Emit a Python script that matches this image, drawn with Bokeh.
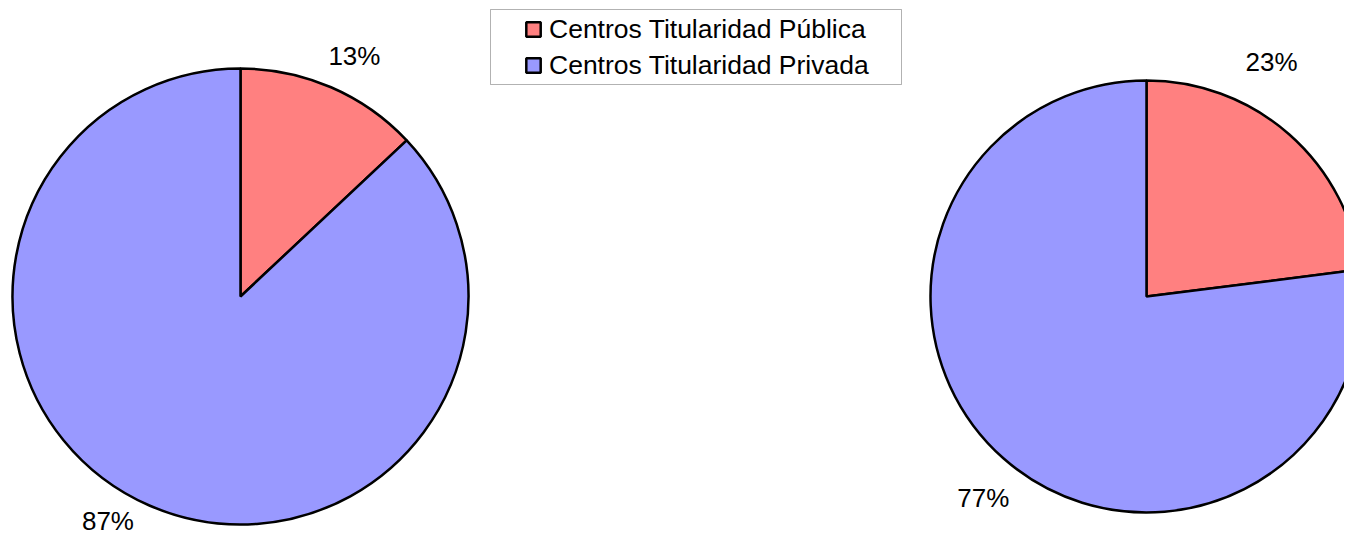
import math
from bokeh.plotting import figure
from bokeh.models import Range1d, Legend, LegendItem, BoxAnnotation, ColumnDataSource
from bokeh.core.properties import value
from bokeh.embed import file_html
from bokeh.resources import INLINE

# ---- data ----
categories = ["Centros Titularidad Pública", "Centros Titularidad Privada"]
pie_left_values = [13, 87]
pie_right_values = [23, 77]
colors = ["#FF8080", "#9999FF"]

# ---- layout (pixels in figure space) ----
W, H = 1344, 538
pies = [
    dict(values=pie_left_values, cx=240, cy=H - 296, r=228,
         label_factor=[1.169, 1.142], label_nudge=[-1.9, -7.2]),
    dict(values=pie_right_values, cx=1146, cy=H - 296, r=216,
         label_factor=[1.230, 1.200], label_nudge=[13.3, 2.4]),
]
FONT = "Liberation Sans"

p = figure(width=W, height=H, x_range=Range1d(0, W), y_range=Range1d(0, H),
           output_backend="svg", toolbar_location=None, min_border=0,
           x_axis_location=None, y_axis_location=None)
p.grid.visible = False
p.outline_line_color = None
p.background_fill_color = "white"
p.border_fill_color = "white"

first_renderer = None
for pie in pies:
    vals = pie["values"]
    total = float(sum(vals))
    starts, ends, mids = [], [], []
    cum = 0.0
    for v in vals:
        a0 = math.pi / 2 - 2 * math.pi * cum / total
        cum += v
        a1 = math.pi / 2 - 2 * math.pi * cum / total
        starts.append(a0)
        ends.append(a1)
        mids.append((a0 + a1) / 2)
    src = ColumnDataSource(dict(
        x=[pie["cx"]] * len(vals), y=[pie["cy"]] * len(vals),
        start=starts, end=ends, color=colors[:len(vals)], cat=categories))
    r = p.wedge(x="x", y="y", radius=pie["r"], start_angle="start", end_angle="end",
                direction="clock", fill_color="color", line_color="black",
                line_width=2.5, source=src)
    if first_renderer is None:
        first_renderer = r
    lx, ly, lt = [], [], []
    for i, v in enumerate(vals):
        ang = mids[i] + math.radians(pie["label_nudge"][i])
        d = pie["r"] * pie["label_factor"][i]
        lx.append(pie["cx"] + d * math.cos(ang))
        ly.append(pie["cy"] + d * math.sin(ang))
        lt.append(f"{round(100 * v / total)}%")
    p.text(x=lx, y=ly, text=lt, text_align="center", text_baseline="middle",
           text_font=value(FONT), text_font_size="26px", text_color="black")

items = [LegendItem(label=categories[i], renderers=[first_renderer], index=i)
         for i in range(len(categories))]
legend = Legend(items=items, location=(522, H - 85), padding=2, spacing=0,
                glyph_width=18, glyph_height=18, label_height=36, label_standoff=7,
                label_text_font=FONT, label_text_font_size="26.5px",
                label_text_color="black",
                border_line_alpha=0, background_fill_alpha=0, margin=0)
p.add_layout(legend)

box = BoxAnnotation(left=490, right=901, bottom=H - 84, top=H - 9,
                    fill_alpha=0, line_color="black", line_width=1)
p.add_layout(box)

open("out.html", "w").write(file_html(p, INLINE))
